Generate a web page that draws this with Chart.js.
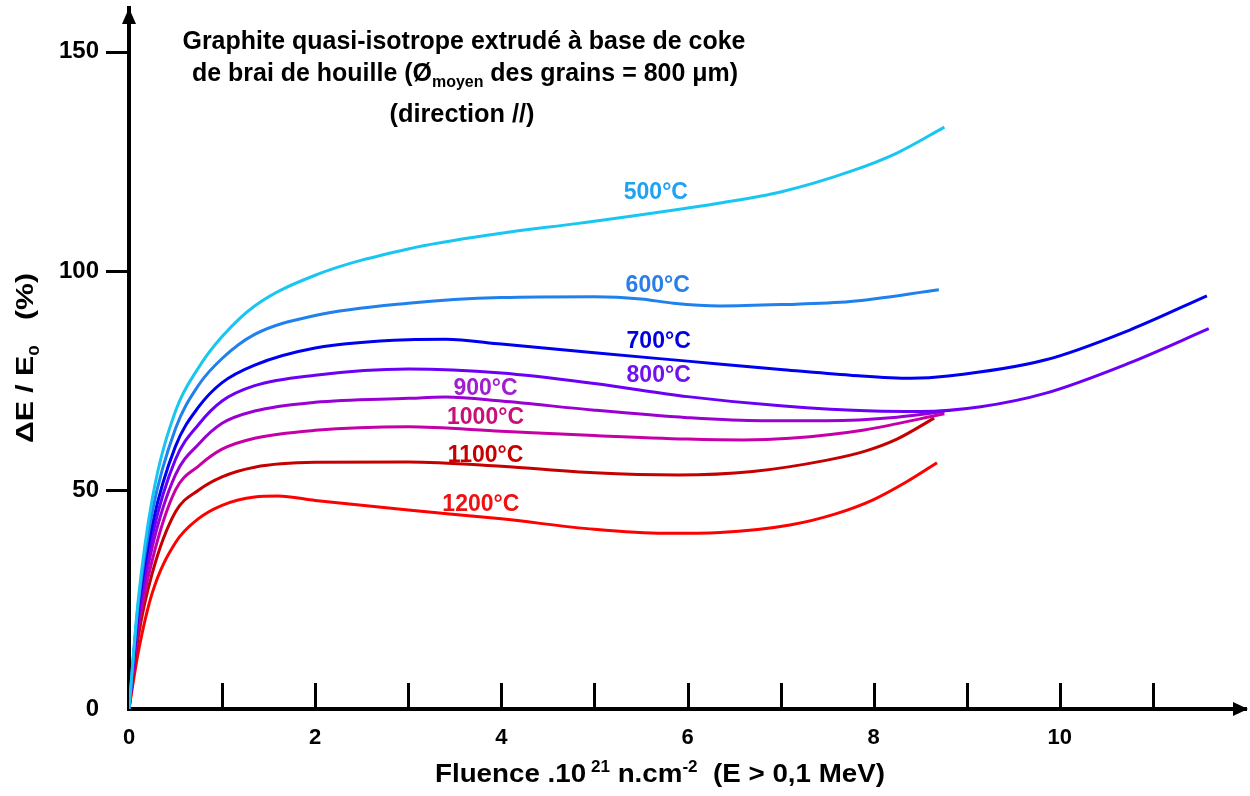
<!DOCTYPE html>
<html>
<head>
<meta charset="utf-8">
<script src="https://cdn.jsdelivr.net/npm/chart.js@4.4.1/dist/chart.umd.min.js"></script>
<style>
html, body { margin: 0; padding: 0; background: #fff; }
#wrap { width: 1250px; height: 796px; }
</style>
</head>
<body>
<div id="wrap"><canvas id="chart"></canvas></div>
<script>
// fluence (10^21 n/cm2) and relative Young's modulus change (%)
const temperatures = ["500°C", "600°C", "700°C", "800°C", "900°C", "1000°C", "1100°C", "1200°C"];

const fluence500 = [0, 0.1, 0.25, 0.5, 0.75, 1.0, 1.35, 2, 3, 4, 4.85, 6.35, 7, 7.75, 8.25, 8.76];
const e500 = [0, 25, 48, 68, 78, 85, 92, 99, 105, 108.6, 110.9, 115.5, 118, 122.7, 126.9, 132.8];

const fluence600 = [0, 0.1, 0.25, 0.5, 0.75, 1.0, 1.35, 2, 3, 4, 5, 5.5, 5.85, 6.35, 7, 7.75, 8.7];
const e600 = [0, 24, 45, 64, 74, 80, 85.5, 89.8, 92.6, 93.9, 94.1, 93.6, 92.6, 92, 92.3, 93, 95.7];

const fluence700 = [0, 0.1, 0.25, 0.5, 0.75, 1.0, 1.35, 2, 3, 3.4, 4, 5, 6, 7, 7.75, 8.4, 8.8, 9.85, 10.75, 11.58];
const e700 = [0, 23, 42, 60, 69, 74.5, 78.5, 82.4, 84.3, 84.4, 83.3, 81.3, 79.4, 77.5, 76.2, 75.5, 76, 79.7, 86.5, 94.3];

const fluence800 = [0, 0.1, 0.25, 0.5, 0.75, 1.0, 1.35, 2, 3, 4, 5, 6, 7, 8, 8.5, 9.15, 9.85, 10.75, 11.6];
const e800 = [0, 21.5, 39.5, 57, 65, 70.3, 73.8, 76.2, 77.6, 76.7, 74.3, 71.3, 69.2, 68, 67.9, 69, 72.1, 79, 86.8];

const fluence900 = [0, 0.1, 0.25, 0.5, 0.75, 1.0, 1.35, 2, 3, 3.4, 4, 5, 6, 6.8, 7.5, 8.25, 8.76];
const e900 = [0, 20, 37, 53.5, 60.5, 65.2, 68, 70, 70.9, 71.2, 70.3, 68.2, 66.5, 65.8, 65.8, 66.6, 67.9];

const fluence1000 = [0, 0.1, 0.25, 0.5, 0.75, 1.0, 1.35, 2, 3, 4, 5, 6, 6.6, 7.1, 7.9, 8.76];
const e1000 = [0, 18.5, 34, 50, 55.5, 59.3, 61.8, 63.6, 64.4, 63.4, 62.4, 61.6, 61.4, 61.8, 63.7, 67.4];

const fluence1100 = [0, 0.1, 0.25, 0.5, 0.75, 1.0, 1.35, 2, 3, 4, 5, 5.9, 6.7, 7.5, 7.9, 8.25, 8.65];
const e1100 = [0, 16.5, 31, 45, 50, 53, 55.2, 56.3, 56.4, 55.4, 53.9, 53.4, 54.2, 56.8, 58.8, 61.6, 66.4];

const fluence1200 = [0, 0.1, 0.25, 0.5, 0.75, 1.0, 1.35, 1.6, 2, 3, 4, 5, 5.75, 6.35, 7.1, 7.6, 8.0, 8.35, 8.68];
const e1200 = [0, 13, 26.5, 38, 43.5, 46.5, 48.4, 48.6, 47.6, 45.4, 43.4, 41, 40.1, 40.3, 42, 44.6, 47.8, 51.8, 56.2];

const xTicks = [0, 2, 4, 6, 8, 10];
const yTicks = [0, 50, 100, 150];

const fluences = [fluence500, fluence600, fluence700, fluence800, fluence900, fluence1000, fluence1100, fluence1200];
const moduli = [e500, e600, e700, e800, e900, e1000, e1100, e1200];

const lineColors = ["#19c6f2", "#1f80ee", "#0000f0", "#6c00f6", "#9a00d2", "#c400a6", "#c40000", "#ff0000"];
const tagColors = ["#1fa2f2", "#2a7ee8", "#0000e0", "#7010f0", "#a01ed0", "#c8107a", "#c80000", "#f01010"];

// where each temperature tag sits, in axis units
const tagX = [5.66, 5.68, 5.69, 5.69, 3.83, 3.83, 3.83, 3.78];
const tagY = [117.8, 96.6, 83.8, 76.0, 73.1, 66.4, 57.8, 46.6];

const FONT = "'Liberation Sans', Arial, sans-serif";

function drawRuns(ctx, runs, cx, baseline, width) {
    let total = 0;
    runs.forEach(r => {
        ctx.font = "bold " + r.size + "px " + FONT;
        r.w = ctx.measureText(r.t).width;
        total += r.w;
    });
    const sx = width ? width / total : 1;
    ctx.save();
    ctx.translate(cx - total * sx / 2, baseline);
    ctx.scale(sx, 1);
    let x = 0;
    runs.forEach(r => {
        ctx.font = "bold " + r.size + "px " + FONT;
        ctx.fillText(r.t, x, r.dy || 0);
        x += r.w;
    });
    ctx.restore();
}

const decorations = {
    id: "decorations",
    afterDraw(chart) {
        const ctx = chart.ctx;
        const xs = chart.scales.x;
        const ys = chart.scales.y;
        const area = chart.chartArea;

        ctx.save();
        ctx.fillStyle = "#000";
        ctx.strokeStyle = "#000";

        // tick marks
        ctx.lineWidth = 3;
        for (let v = 1; v <= 11; v++) {
            const px = Math.round(xs.getPixelForValue(v)) + 0.5;
            ctx.beginPath();
            ctx.moveTo(px, area.bottom);
            ctx.lineTo(px, area.bottom - 26);
            ctx.stroke();
        }
        yTicks.slice(1).forEach(v => {
            const py = Math.round(ys.getPixelForValue(v)) + 0.5;
            ctx.beginPath();
            ctx.moveTo(area.left, py);
            ctx.lineTo(area.left - 23, py);
            ctx.stroke();
        });

        // arrow heads
        ctx.beginPath();
        ctx.moveTo(area.left, area.top);
        ctx.lineTo(area.left - 7, area.top + 16);
        ctx.lineTo(area.left + 7, area.top + 16);
        ctx.closePath();
        ctx.fill();
        ctx.beginPath();
        ctx.moveTo(area.right + 2, area.bottom);
        ctx.lineTo(area.right - 13, area.bottom - 7);
        ctx.lineTo(area.right - 13, area.bottom + 7);
        ctx.closePath();
        ctx.fill();

        // temperature tags
        ctx.textAlign = "center";
        ctx.textBaseline = "middle";
        ctx.font = "bold 23px " + FONT;
        temperatures.forEach((t, i) => {
            ctx.fillStyle = tagColors[i];
            ctx.fillText(t, xs.getPixelForValue(tagX[i]), ys.getPixelForValue(tagY[i]));
        });

        // titles
        ctx.fillStyle = "#000";
        ctx.textAlign = "left";
        ctx.textBaseline = "alphabetic";
        drawRuns(ctx, [{ t: "Graphite quasi-isotrope extrudé à base de coke", size: 25 }], 464, 49, 563);
        drawRuns(ctx, [
            { t: "de brai de houille (Ø", size: 25 },
            { t: "moyen", size: 16, dy: 6 },
            { t: " des grains = 800 μm)", size: 25 }
        ], 465, 81, 546);
        drawRuns(ctx, [{ t: "(direction //)", size: 25 }], 462, 122, 145);

        drawRuns(ctx, [
            { t: "Fluence .10", size: 26 },
            { t: " 21", size: 16, dy: -10 },
            { t: " n.cm", size: 26 },
            { t: "-2", size: 16, dy: -10 },
            { t: "  (E > 0,1 MeV)", size: 26 }
        ], 660, 782, 450);

        ctx.save();
        ctx.translate(33, 358);
        ctx.rotate(-Math.PI / 2);
        drawRuns(ctx, [
            { t: "ΔE / E", size: 24 },
            { t: "0", size: 15, dy: 6 },
            { t: "   (%)", size: 24 }
        ], 0, 0, 170);
        ctx.restore();

        ctx.restore();
    }
};

const datasets = temperatures.map((t, i) => ({
    label: t,
    data: fluences[i].map((f, k) => ({ x: f, y: moduli[i][k] })),
    borderColor: lineColors[i],
    borderWidth: 3,
    pointRadius: 0,
    fill: false,
    cubicInterpolationMode: "monotone"
}));

new Chart(document.getElementById("chart"), {
    type: "line",
    data: { datasets },
    options: {
        responsive: true,
        maintainAspectRatio: false,
        animation: false,
        layout: { padding: { left: 0, right: 4, top: 8, bottom: 0 } },
        plugins: {
            legend: { display: false },
            title: { display: false },
            tooltip: { enabled: false }
        },
        scales: {
            x: {
                type: "linear",
                min: 0,
                max: 12,
                grid: { display: false, drawTicks: false },
                border: { display: true, color: "#000", width: 4 },
                ticks: {
                    stepSize: 1,
                    autoSkip: false,
                    maxRotation: 0,
                    padding: 16,
                    color: "#000",
                    font: { family: FONT, size: 22, weight: "bold" },
                    callback: v => xTicks.includes(v) ? v : ""
                },
                afterFit: s => { s.height = 87; s.paddingLeft = 0; s.paddingRight = 0; }
            },
            y: {
                min: 0,
                max: 160,
                grid: { display: false, drawTicks: false },
                border: { display: true, color: "#000", width: 4 },
                ticks: {
                    stepSize: 50,
                    padding: 30,
                    color: "#000",
                    font: { family: FONT, size: 24, weight: "bold" },
                    callback: v => yTicks.includes(v) ? v : ""
                },
                afterFit: s => { s.width = 129; s.paddingTop = 0; s.paddingBottom = 0; }
            }
        }
    },
    plugins: [decorations]
});
</script>
</body>
</html>
